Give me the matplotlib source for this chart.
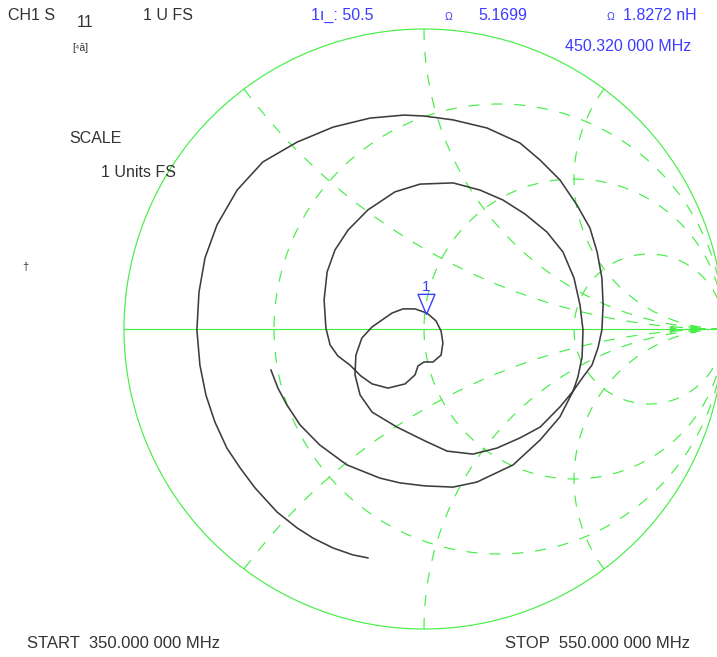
import numpy as np
import matplotlib
matplotlib.use("Agg")
import matplotlib.pyplot as plt

plt.rcParams['font.family'] = ['Liberation Sans', 'DejaVu Sans']
plt.rcParams['lines.scale_dashes'] = False

# sweep / marker readout
start_mhz = 350.0
stop_mhz = 550.0
z0 = 50.0
marker_freq_mhz = 450.32
marker_r_ohm = 50.5
marker_x_ohm = 5.1699
marker_l_nh = 1.8272

# Smith grid values (normalised)
r_circles = [1 / 3, 1, 3]
x_arcs = [0.5, 1, 2]

# S11 trace (reflection coefficient, real / imag), start -> stop
trace_re = [-0.187, -0.237, -0.303, -0.370, -0.423, -0.490, -0.563, -0.613, -0.657, -0.697,
            -0.727, -0.747, -0.757, -0.750, -0.730, -0.690, -0.623, -0.537, -0.423, -0.303,
            -0.180, -0.067, 0.000, 0.097, 0.210, 0.320, 0.387, 0.453, 0.510, 0.553,
            0.577, 0.593, 0.597, 0.593, 0.580, 0.560, 0.530, 0.497, 0.453, 0.387,
            0.320, 0.243, 0.163, 0.077, 0.003, -0.090, -0.173, -0.213, -0.230, -0.227,
            -0.207, -0.173, -0.140, -0.107, -0.070, -0.030, 0.010, 0.040, 0.057, 0.063,
            0.057, 0.030, 0.000, -0.020, -0.030, -0.063, -0.120, -0.173, -0.210, -0.247,
            -0.287, -0.313, -0.327, -0.333, -0.323, -0.297, -0.253, -0.187, -0.097, -0.013,
            0.097, 0.187, 0.263, 0.337, 0.410, 0.463, 0.500, 0.520, 0.530, 0.527,
            0.513, 0.497, 0.453, 0.387, 0.297, 0.177, 0.097, 0.003, -0.080, -0.147,
            -0.257, -0.347, -0.413, -0.457, -0.487, -0.510]
trace_im = [-0.763, -0.753, -0.730, -0.697, -0.663, -0.610, -0.530, -0.463, -0.397, -0.310,
            -0.220, -0.120, -0.003, 0.123, 0.237, 0.347, 0.463, 0.557, 0.623, 0.673,
            0.703, 0.713, 0.710, 0.697, 0.670, 0.620, 0.563, 0.497, 0.413, 0.337,
            0.257, 0.170, 0.080, -0.003, -0.063, -0.120, -0.160, -0.207, -0.260, -0.327,
            -0.363, -0.397, -0.417, -0.407, -0.373, -0.327, -0.277, -0.220, -0.153, -0.087,
            -0.030, 0.007, 0.030, 0.053, 0.067, 0.067, 0.053, 0.027, -0.007, -0.047,
            -0.087, -0.110, -0.110, -0.123, -0.153, -0.183, -0.197, -0.183, -0.157, -0.120,
            -0.090, -0.053, 0.003, 0.097, 0.190, 0.263, 0.330, 0.397, 0.457, 0.483,
            0.487, 0.463, 0.430, 0.383, 0.323, 0.257, 0.170, 0.080, -0.003, -0.093,
            -0.160, -0.207, -0.293, -0.370, -0.453, -0.510, -0.527, -0.523, -0.513, -0.497,
            -0.453, -0.387, -0.320, -0.253, -0.197, -0.137]

GREEN = '#46ee46'
BLUE = '#3c3cff'
TEXT = '#333333'
TRACE = '#3d3d3d'

W, H = 717, 657
fig = plt.figure(figsize=(W / 100, H / 100), dpi=100)
fig.patch.set_facecolor('white')
ax = fig.add_axes([0, 0, 1, 1])
# chart centre at (424, 329) px, unit radius 300 px
ax.set_xlim(-424 / 300, (W - 424) / 300)
ax.set_ylim((329 - H) / 300, 329 / 300)
ax.set_aspect('equal')
ax.axis('off')

dash = (0, (8, 8.5))

# outer circle and real axis
t = np.linspace(0, 2 * np.pi, 721)
ax.plot(np.cos(t), np.sin(t), color=GREEN, lw=0.85)
ax.plot([-1, 1], [0, 0], color=GREEN, lw=0.85)

# constant resistance circles
for r in r_circles:
    c, rad = r / (1 + r), 1 / (1 + r)
    ax.plot(c + rad * np.cos(t + np.pi), rad * np.sin(t + np.pi),
            color=GREEN, lw=0.85, linestyle=dash)

# constant reactance arcs
u = np.linspace(0, 0.999, 800)
rr = u / (1 - u)
for x in x_arcs:
    for s in (1, -1):
        z = rr + 1j * s * x
        g = (z - 1) / (z + 1)
        g = np.append(g, 1 + 0j)
        ax.plot(g.real, g.imag, color=GREEN, lw=0.85, linestyle=dash)

# little arrow heads where the arcs converge on the axis
ax.plot([0.83], [0], marker='>', ms=5, color=GREEN, mec=GREEN)
ax.plot([0.895], [0], marker='o', ms=4.5, color=GREEN, mec=GREEN)

# trace
ax.plot(trace_re, trace_im, color=TRACE, lw=1.15, solid_joinstyle='round')

# marker 1
zm = complex(marker_r_ohm, marker_x_ohm) / z0
gm = (zm - 1) / (zm + 1)
tri = [(0, 0), (-0.42, 1), (0.42, 1), (0, 0)]
ax.plot([gm.real], [gm.imag], marker=tri, ms=29, mfc='none', mec=BLUE, mew=1.0,
        linestyle='none')
ax.annotate('1', (gm.real, gm.imag), xytext=(0, 16.5), textcoords='offset points',
            ha='center', va='baseline', color=BLUE, fontsize=11)


def px(x, y):
    return x / W, 1 - y / H


fs = 11.5
fig.text(*px(8, 20), 'CH1 S', color=TEXT, fontsize=fs, va='baseline')
fig.text(*px(77, 27), '11', color=TEXT, fontsize=fs, va='baseline')
fig.text(*px(72, 51), '[⁴ā]', color=TEXT, fontsize=7.5, va='baseline')
fig.text(*px(143, 20), '1 U FS', color=TEXT, fontsize=fs, va='baseline')

fig.text(*px(311, 20), '1ı_: %.1f' % marker_r_ohm, color=BLUE, fontsize=fs, va='baseline')
fig.text(*px(445, 20), 'Ω', color=BLUE, fontsize=7.5, va='baseline')
fig.text(*px(478, 20), '%.4f' % marker_x_ohm, color=BLUE, fontsize=fs, va='baseline')
fig.text(*px(607, 20), 'Ω', color=BLUE, fontsize=7.5, va='baseline')
fig.text(*px(623, 20), '%.4f nH' % marker_l_nh, color=BLUE, fontsize=fs, va='baseline')
fig.text(*px(565, 51), '%.3f 000 MHz' % marker_freq_mhz, color=BLUE, fontsize=fs,
         va='baseline')

fig.text(*px(69, 143), 'SCALE', color=TEXT, fontsize=fs, va='baseline')
fig.text(*px(101, 177), '1 Units FS', color=TEXT, fontsize=fs, va='baseline')
fig.text(*px(22, 270), '†', color=TEXT, fontsize=8, va='baseline')

fig.text(*px(27, 648), 'START  %.3f 000 MHz' % start_mhz, color=TEXT, fontsize=12,
         va='baseline')
fig.text(*px(505, 648), 'STOP  %.3f 000 MHz' % stop_mhz, color=TEXT, fontsize=12,
         va='baseline')

fig.savefig('out.png', dpi=100, facecolor='white')
